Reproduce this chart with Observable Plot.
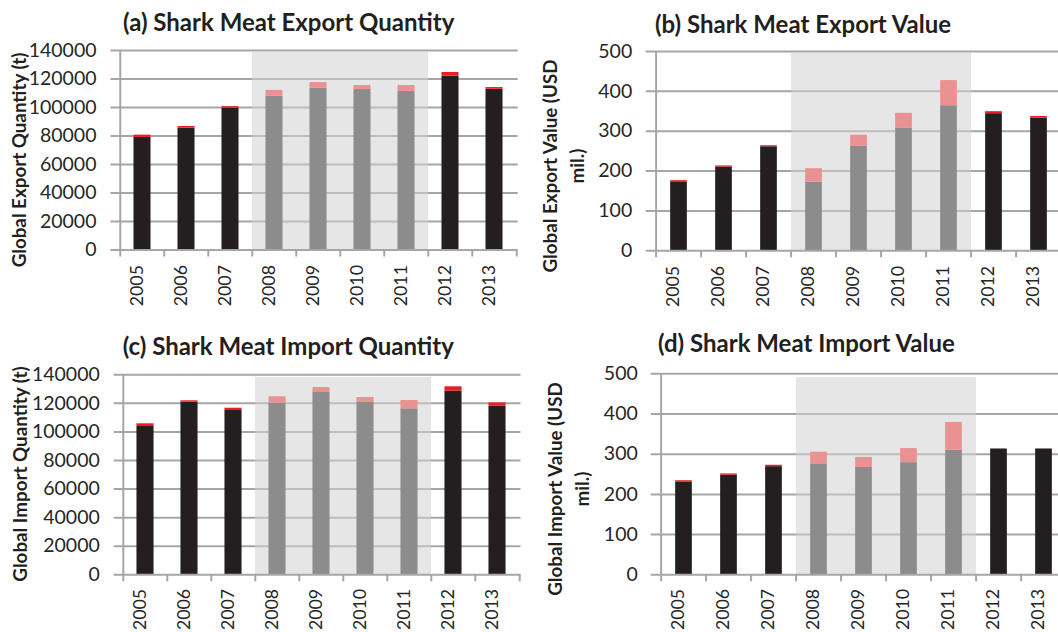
<!DOCTYPE html>
<html>
<head>
<meta charset="utf-8">
<script src="https://cdn.jsdelivr.net/npm/d3@7"></script>
<script src="https://cdn.jsdelivr.net/npm/@observablehq/plot@0.6"></script>
<style>
  html, body { margin: 0; padding: 0; overflow: hidden; background: #fff; }
  #root { position: relative; width: 1058px; height: 632px; overflow: hidden; font-family: Lato, "Open Sans", sans-serif; }
  .panel { position: absolute; }
  .panel svg { display: block; max-width: none !important; height: auto; }
  .title { position: absolute; font-weight: 700; font-size: 24px; line-height: 1.2; white-space: nowrap; color: #231f20; }
  .ylab { position: absolute; font-weight: 700; font-size: 18.8px; line-height: 27px; white-space: nowrap; text-align: center; color: #231f20; transform: translate(-50%, -50%) rotate(-90deg); }
</style>
</head>
<body>
<div id="root"></div>
<script>
// ---- data ----
const years = ["2005", "2006", "2007", "2008", "2009", "2010", "2011", "2012", "2013"];
const shadedYears = ["2008", "2009", "2010", "2011"];
const quantityTicks = [0, 20000, 40000, 60000, 80000, 100000, 120000, 140000];
const valueTicks = [0, 100, 200, 300, 400, 500];

// (a) export quantity (t): reported part and added part on top
const exportQuantityBase  = [79000, 85500, 99500, 108000, 113500, 112600, 111200, 122000, 112800];
const exportQuantityExtra = [1600, 1200, 1100, 4000, 4000, 2800, 4200, 2600, 1200];
// (b) export value (USD mil.)
const exportValueBase  = [173, 210, 261, 172, 262, 307, 364, 344, 333];
const exportValueExtra = [3, 3, 2.5, 34, 28, 38, 63, 5, 4];
// (c) import quantity (t)
const importQuantityBase  = [103800, 120900, 115000, 120200, 127600, 120600, 116200, 128600, 118000];
const importQuantityExtra = [1900, 900, 1600, 4400, 3500, 3500, 5800, 3000, 2300];
// (d) import value (USD mil.)
const importValueBase  = [230, 248, 269, 276, 267, 279, 310, 313, 313];
const importValueExtra = [4, 3, 3.5, 29, 25, 35, 69, 0, 0];

// ---- style ----
const C = {
  black: "#231f20", grey: "#8c8c8c", red: "#ec1c24", pink: "#ea9191",
  grid: "#a6a6a6", shade: "#d1d1d1", text: "#262626"
};
const FONT = "Lato, 'Open Sans', sans-serif";

function chart({base, extra, ticks, yMax, shadeTop, width, height, ml, mr, mt, mb, gap, labelDy}) {
  const rows = years.flatMap((year, i) => [
    {year, part: "base", value: base[i]},
    {year, part: "extra", value: extra[i]}
  ]);
  const bw = (width - ml - mr) / years.length;
  const inset = (bw - 17.5) / 2;
  const frameH = height - mt - mb;
  const fill = d => shadedYears.includes(d.year)
    ? (d.part === "base" ? C.grey : C.pink)
    : (d.part === "base" ? C.black : C.red);
  return Plot.plot({
    width, height,
    marginLeft: ml, marginRight: mr, marginTop: mt, marginBottom: mb,
    style: {fontFamily: FONT, fontSize: "19.5px", color: C.text, background: "transparent", overflow: "visible", maxWidth: "none"},
    x: {type: "band", domain: years, padding: 0, axis: null},
    y: {domain: [0, yMax], axis: null},
    color: {type: "identity"},
    marks: [
      Plot.ruleY(ticks.filter(t => t > 0), {y: d => d, stroke: C.grid, strokeWidth: 2, insetLeft: -7}),
      Plot.barY(shadedYears, {x: d => d, y: () => shadeTop, fill: C.shade, fillOpacity: 0.54, shapeRendering: "crispEdges"}),
      Plot.barY(rows, {x: "year", y: "value", fill, insetLeft: inset, insetRight: inset}),
      Plot.ruleY([0], {y: d => d, stroke: C.grid, strokeWidth: 2, insetLeft: -7}),
      Plot.ruleX([years[0]], {x: d => d, dx: -bw / 2, stroke: C.grid, strokeWidth: 2, insetBottom: -7}),
      Plot.ruleX(years.slice(1), {x: d => d, dx: -bw / 2, stroke: C.grid, strokeWidth: 2, insetTop: frameH, insetBottom: -7}),
      Plot.ruleX([years[years.length - 1]], {x: d => d, dx: bw / 2, stroke: C.grid, strokeWidth: 2, insetTop: frameH, insetBottom: -7}),
      Plot.text(ticks, {y: d => d, text: d => String(d), frameAnchor: "left", textAnchor: "end", dx: -gap, fill: C.text}),
      Plot.text(years, {x: d => d, text: d => d, frameAnchor: "bottom", rotate: -90, textAnchor: "end", dy: labelDy, fontSize: 17.8, fill: C.text})
    ]
  });
}

const root = document.getElementById("root");
function place(el, left, top, width, height) {
  const d = document.createElement("div");
  d.className = "panel";
  d.style.left = left + "px";
  d.style.top = top + "px";
  d.style.width = width + "px";
  d.style.height = height + "px";
  el.style.maxWidth = "none";
  el.style.width = width + "px";
  el.style.height = height + "px";
  d.appendChild(el);
  root.appendChild(d);
}
function addTitle(text, left, top) {
  const d = document.createElement("div");
  d.className = "title";
  d.textContent = text;
  d.style.left = left + "px";
  d.style.top = top + "px";
  root.appendChild(d);
}
function addYLabel(lines, cx, cy) {
  const d = document.createElement("div");
  d.className = "ylab";
  lines.forEach((l, i) => { if (i) d.appendChild(document.createElement("br")); d.appendChild(document.createTextNode(l)); });
  d.style.left = cx + "px";
  d.style.top = cy + "px";
  root.appendChild(d);
}

place(chart({base: exportQuantityBase, extra: exportQuantityExtra, ticks: quantityTicks, yMax: 140000, shadeTop: 138800,
  width: 530, height: 316, ml: 117.5, mr: 12.3, mt: 50, mb: 66.5, gap: 21.5, labelDy: 15}), 0, 0, 530, 316);
place(chart({base: exportValueBase, extra: exportValueExtra, ticks: valueTicks, yMax: 500, shadeTop: 498,
  width: 535, height: 316, ml: 122.7, mr: 0, mt: 51, mb: 65.7, gap: 21, labelDy: 15}), 530, 0, 535, 316);
place(chart({base: importQuantityBase, extra: importQuantityExtra, ticks: quantityTicks, yMax: 140000, shadeTop: 138100,
  width: 530, height: 316, ml: 120.7, mr: 9.5, mt: 58.3, mb: 57.7, gap: 21.4, labelDy: 14}), 0, 316, 530, 316);
place(chart({base: importValueBase, extra: importValueExtra, ticks: valueTicks, yMax: 500, shadeTop: 491.5,
  width: 540, height: 316, ml: 127.7, mr: 0, mt: 57.3, mb: 57.7, gap: 20.4, labelDy: 14}), 530, 316, 540, 316);

addTitle("(a) Shark Meat Export Quantity", 123, 8.3);
addTitle("(b) Shark Meat Export Value", 655, 9.6);
addTitle("(c) Shark Meat Import Quantity", 122.7, 332.3);
addTitle("(d) Shark Meat Import Value", 658, 329.3);

addYLabel(["Global Export Quantity (t)"], 18.2, 160);
addYLabel(["Global Export Value (USD", "mil.)"], 563.2, 166);
addYLabel(["Global Import Quantity (t)"], 18.6, 474);
addYLabel(["Global Import Value (USD", "mil.)"], 568.2, 488.5);
</script>
</body>
</html>
